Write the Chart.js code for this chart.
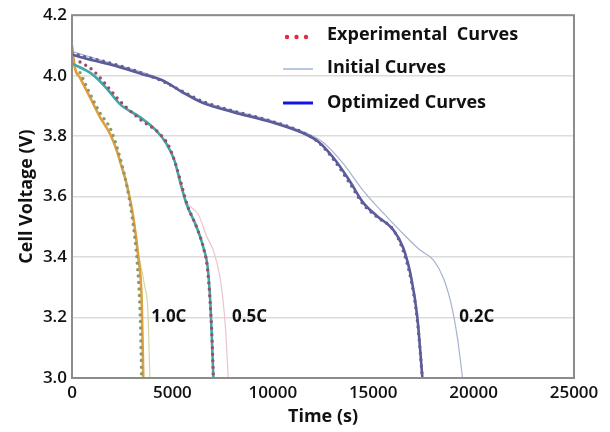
<!DOCTYPE html>
<html>
<head>
<meta charset="utf-8">
<script src="https://cdn.jsdelivr.net/npm/chart.js@4/dist/chart.umd.min.js"></script>
<style>
  html, body { margin: 0; padding: 0; background: #fff; }
  #wrap { width: 610px; height: 432px; }
</style>
</head>
<body>
<div id="wrap"><canvas id="chart" width="610" height="432"></canvas></div>
<script>
// discharge curves (time in s, voltage in V)
const t02Opt = [0, 500, 2000, 3500, 4500, 5500, 6500, 8000, 10000, 11500, 12300, 13000, 13800, 14500, 15200, 16000, 16500, 16900, 17200, 17450];
const v02Opt = [4.07, 4.06, 4.035, 4.005, 3.985, 3.945, 3.91, 3.88, 3.845, 3.81, 3.78, 3.73, 3.655, 3.58, 3.535, 3.49, 3.43, 3.33, 3.2, 3.0];
const t02Init = [0, 2000, 4000, 6500, 8000, 10000, 11500, 12500, 13500, 14500, 15300, 16300, 17300, 18000, 18500, 18900, 19200, 19450];
const v02Init = [4.08, 4.04, 4.0, 3.915, 3.885, 3.85, 3.815, 3.78, 3.71, 3.62, 3.56, 3.49, 3.425, 3.39, 3.33, 3.24, 3.13, 3.0];
const t02Exp = [0, 500, 2000, 3500, 4500, 5500, 6500, 8000, 10000, 11500, 12300, 13000, 13800, 14500, 15200, 16000, 16500, 16900, 17200, 17450];
const v02Exp = [4.075, 4.065, 4.04, 4.008, 3.982, 3.948, 3.915, 3.884, 3.848, 3.812, 3.778, 3.725, 3.648, 3.575, 3.532, 3.49, 3.42, 3.32, 3.19, 3.0];

const t05Opt = [0, 1000, 1700, 2400, 3400, 4200, 4700, 5100, 5400, 5700, 6200, 6550, 6750, 6880, 6960, 7040];
const v05Opt = [4.04, 4.005, 3.96, 3.905, 3.862, 3.818, 3.775, 3.72, 3.645, 3.576, 3.5, 3.43, 3.37, 3.26, 3.14, 3.0];
const t05Init = [0, 1000, 2400, 4200, 5100, 5700, 6300, 6700, 7050, 7350, 7500, 7650, 7780];
const v05Init = [4.04, 4.005, 3.905, 3.82, 3.72, 3.585, 3.54, 3.47, 3.42, 3.34, 3.27, 3.16, 3.0];
const t05Exp = [400, 1000, 1700, 2300, 3400, 4300, 4800, 5150, 5450, 5750, 6200, 6550, 6750, 6880, 6980, 7040];
const v05Exp = [4.045, 4.02, 3.97, 3.922, 3.855, 3.812, 3.77, 3.71, 3.64, 3.57, 3.5, 3.43, 3.36, 3.25, 3.12, 3.0];

const t10Opt = [0, 150, 400, 900, 1400, 1900, 2230, 2400, 2720, 3050, 3300, 3470, 3550];
const v10Opt = [4.1, 4.025, 3.993, 3.928, 3.862, 3.807, 3.752, 3.715, 3.642, 3.532, 3.4, 3.258, 3.0];
const t10Init = [0, 150, 400, 900, 1400, 1900, 2400, 3050, 3350, 3600, 3780, 3880];
const v10Init = [4.1, 4.025, 3.993, 3.928, 3.862, 3.807, 3.715, 3.54, 3.4, 3.31, 3.22, 3.0];
const t10Exp = [400, 900, 1400, 1900, 2300, 2700, 3000, 3250, 3400, 3470];
const v10Exp = [4.01, 3.94, 3.876, 3.826, 3.75, 3.645, 3.53, 3.38, 3.2, 3.0];

const rateLabels = ['1.0C', '0.5C', '0.2C'];
const rateLabelTimes = [3950, 7970, 19280];
const rateLabelVolt = 3.2;

const legendLabels = ['Experimental  Curves', 'Initial Curves', 'Optimized Curves'];

const yTicks = [3.0, 3.2, 3.4, 3.6, 3.8, 4.0, 4.2];
const xTicks = [0, 5000, 10000, 15000, 20000, 25000];

function pts(t, v) {
    return t.map((x, i) => ({ x: x, y: v[i] }));
}

function optLine(t, v, color) {
    return { data: pts(t, v), borderColor: color, borderWidth: 2.6, pointRadius: 0, cubicInterpolationMode: 'monotone', order: 2 };
}
function initLine(t, v, color) {
    return { data: pts(t, v), borderColor: color, borderWidth: 1.2, pointRadius: 0, cubicInterpolationMode: 'monotone', order: 3 };
}
function expLine(t, v, color) {
    return { data: pts(t, v), borderColor: color, borderWidth: 3.4, borderDash: [0, 6.5], borderCapStyle: 'round', pointRadius: 0, cubicInterpolationMode: 'monotone', order: 1 };
}

const FONT = "'Open Sans', 'Noto Sans', sans-serif";

// border, rate labels and the legend inside the plot
const decorations = {
    id: 'decorations',
    afterDraw(chart) {
        const ctx = chart.ctx;
        const a = chart.chartArea;
        const xs = chart.scales.x, ys = chart.scales.y;
        ctx.save();
        ctx.strokeStyle = '#8c8c8c';
        ctx.lineWidth = 2;
        ctx.strokeRect(a.left, a.top, a.right - a.left, a.bottom - a.top);

        ctx.fillStyle = '#111';
        ctx.font = 'bold 17px ' + FONT;
        ctx.textBaseline = 'middle';
        ctx.textAlign = 'left';
        rateLabels.forEach((lab, i) => {
            ctx.fillText(lab, xs.getPixelForValue(rateLabelTimes[i]), ys.getPixelForValue(rateLabelVolt));
        });

        // legend
        const lx = 283, tx = 327;
        const rows = [35, 68, 103];
        ctx.fillStyle = '#e8283c';
        for (let k = 0; k < 3; k++) {
            ctx.beginPath();
            ctx.arc(lx + 4 + k * 9.5, rows[0] + 2, 2.2, 0, Math.PI * 2);
            ctx.fill();
        }
        ctx.strokeStyle = '#7090c8';
        ctx.lineWidth = 1;
        ctx.beginPath(); ctx.moveTo(lx, rows[1] + 1); ctx.lineTo(lx + 30, rows[1] + 1); ctx.stroke();
        ctx.strokeStyle = '#1414e6';
        ctx.lineWidth = 3;
        ctx.beginPath(); ctx.moveTo(lx, rows[2]); ctx.lineTo(lx + 30, rows[2]); ctx.stroke();
        ctx.fillStyle = '#111';
        ctx.font = 'bold 18px ' + FONT;
        legendLabels.forEach((lab, i) => ctx.fillText(lab, tx, rows[i]));
        ctx.restore();
    }
};

const ctx = document.getElementById('chart').getContext('2d');
const chart = new Chart(ctx, {
    type: 'line',
    data: {
        datasets: [
            expLine(t02Exp, v02Exp, '#5f5f99'),
            expLine(t05Exp, v05Exp, '#9c4e68'),
            expLine(t10Exp, v10Exp, '#8c9a6a'),
            optLine(t02Opt, v02Opt, '#5c5a98'),
            optLine(t05Opt, v05Opt, '#3caaa8'),
            optLine(t10Opt, v10Opt, '#e0a040'),
            initLine(t02Init, v02Init, '#a6b2d0'),
            initLine(t05Init, v05Init, '#ecc4cc'),
            initLine(t10Init, v10Init, '#d8d4a4')
        ]
    },
    options: {
        responsive: false,
        animation: false,
        layout: { padding: { top: 14, right: 36, left: 0, bottom: 0 } },
        plugins: { legend: { display: false }, tooltip: { enabled: false } },
        scales: {
            x: {
                type: 'linear',
                min: 0, max: 25000,
                afterBuildTicks: s => { s.ticks = xTicks.map(v => ({ value: v })); },
                afterFit: s => { s.height = 54; },
                grid: { display: false, drawTicks: false },
                border: { display: false },
                ticks: { color: '#111', font: { family: FONT, size: 17, weight: '600' }, padding: 5, maxRotation: 0, callback: v => String(v) },
                title: { display: true, text: 'Time (s)', color: '#111', font: { family: FONT, size: 18, weight: 'bold' }, padding: { top: 0 } }
            },
            y: {
                type: 'linear',
                min: 3.0, max: 4.2,
                afterBuildTicks: s => { s.ticks = yTicks.map(v => ({ value: v })); },
                afterFit: s => { s.width = 72; },
                grid: { color: '#dcdcdc', lineWidth: 1.5, drawTicks: false },
                border: { display: false },
                ticks: { color: '#111', font: { family: FONT, size: 17, weight: '600' }, padding: 5, callback: v => v.toFixed(1) },
                title: { display: true, text: 'Cell Voltage (V)', color: '#111', font: { family: FONT, size: 18, weight: 'bold' }, padding: { top: 16 } }
            }
        }
    },
    plugins: [decorations]
});
</script>
</body>
</html>
